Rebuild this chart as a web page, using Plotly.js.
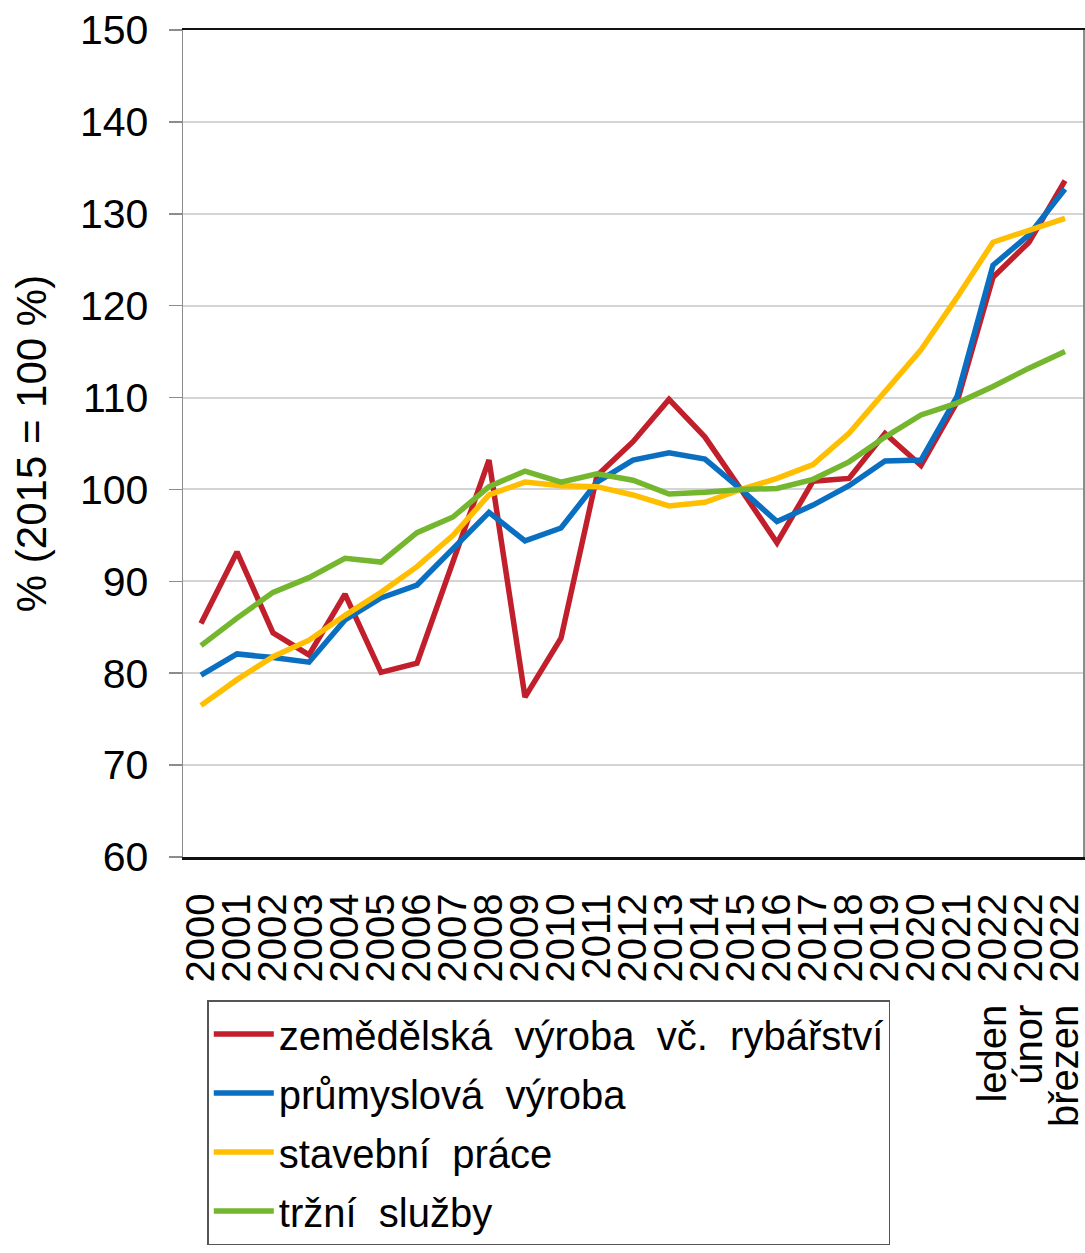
<!DOCTYPE html>
<html>
<head>
<meta charset="utf-8">
<script src="https://cdn.plot.ly/plotly-3.0.1.min.js"></script>
<style>
html,body{margin:0;padding:0;background:#fff;}
#chart{width:1085px;height:1253px;}
</style>
</head>
<body>
<div id="chart"></div>
<script>
// Categories (x axis)
var categories = ['2000','2001','2002','2003','2004','2005','2006','2007','2008','2009','2010',
  '2011','2012','2013','2014','2015','2016','2017','2018','2019','2020','2021',
  'leden 2022','únor 2022','březen 2022'];
var tickLabels = ['2000','2001','2002','2003','2004','2005','2006','2007','2008','2009','2010',
  '2011','2012','2013','2014','2015','2016','2017','2018','2019','2020','2021',
  'leden\u00a0\u00a02022','únor\u00a0\u00a02022','březen\u00a0\u00a02022'];

// Series names
var seriesNames = ['zemědělská\u00a0 výroba\u00a0 vč.\u00a0 rybářství','průmyslová\u00a0 výroba','stavební\u00a0 práce','tržní\u00a0 služby'];

// Series values (% , 2015 = 100 %)
var zemedelska = [85.4, 93.2, 84.4, 82.0, 88.6, 80.1, 81.1, 92.0, 103.2, 77.4, 83.8, 101.5, 105.2, 109.8, 105.7, 100.0, 94.2, 100.9, 101.2, 106.1, 102.6, 109.5, 123.1, 126.9, 133.6];
var prumyslova = [79.8, 82.1, 81.7, 81.2, 85.8, 88.2, 89.6, 93.6, 97.5, 94.4, 95.8, 100.8, 103.2, 104.0, 103.3, 100.0, 96.5, 98.3, 100.4, 103.1, 103.2, 110.1, 124.4, 127.7, 132.7];
var stavebni   = [76.5, 79.3, 81.8, 83.6, 86.3, 88.8, 91.6, 95.0, 99.4, 100.8, 100.4, 100.3, 99.4, 98.2, 98.6, 100.0, 101.2, 102.7, 106.1, 110.7, 115.2, 120.9, 126.9, 128.2, 129.5];
var trzni      = [83.0, 86.0, 88.8, 90.4, 92.5, 92.1, 95.3, 97.0, 100.3, 102.0, 100.8, 101.7, 101.0, 99.5, 99.7, 100.0, 100.1, 101.1, 103.0, 105.7, 108.1, 109.4, 111.2, 113.2, 115.0];

var colors = ['#C01F2B', '#0A6FC0', '#FFBF00', '#74B72E'];
var seriesValues = [zemedelska, prumyslova, stavebni, trzni];

var FONT = 'Liberation Sans, Arial, sans-serif';

var traces = seriesValues.map(function(vals, i){
  return {
    type: 'scatter',
    mode: 'lines',
    x: categories,
    y: vals,
    name: seriesNames[i],
    legendgroup: 'g' + i,
    line: {color: colors[i], width: 5.5}
  };
});

var layout = {
  width: 1085,
  height: 1253,
  paper_bgcolor: '#ffffff',
  plot_bgcolor: '#ffffff',
  margin: {l: 183, r: 2, t: 30, b: 396},
  showlegend: true,
  font: {family: FONT, color: '#000', size: 40},
  xaxis: {
    type: 'category',
    range: [-0.5, 24.5],
    tickmode: 'array',
    tickvals: categories,
    ticktext: tickLabels,
    tickangle: -90,
    tickfont: {family: FONT, size: 40, color: '#000'},
    ticklabelstandoff: 18,
    showgrid: false,
    ticks: '',
    showline: true,
    linecolor: '#111',
    linewidth: 2.5,
    mirror: true,
    zeroline: false,
    automargin: false,
    fixedrange: true
  },
  yaxis: {
    range: [60, 150],
    dtick: 10,
    tick0: 60,
    showgrid: true,
    gridcolor: '#D4D4D4',
    gridwidth: 2,
    ticks: 'outside',
    ticklen: 13,
    tickcolor: '#8C8C8C',
    tickwidth: 1.5,
    ticklabelstandoff: 12,
    tickfont: {family: FONT, size: 41, color: '#000'},
    showline: true,
    linecolor: '#8C8C8C',
    linewidth: 1.5,
    mirror: true,
    zeroline: false,
    automargin: false,
    title: {text: '% (2015 = 100 %)', font: {family: FONT, size: 42, color: '#000'}, standoff: 20},
    fixedrange: true
  },
  legend: {
    x: 0.027,
    xanchor: 'left',
    y: -0.173,
    yanchor: 'top',
    bgcolor: '#ffffff',
    bordercolor: '#555',
    borderwidth: 1.5,
    tracegroupgap: 4,
    itemwidth: 60,
    font: {family: FONT, size: 40, color: '#000'}
  }
};

Plotly.newPlot('chart', traces, layout, {displayModeBar: false, staticPlot: true});
</script>
</body>
</html>
